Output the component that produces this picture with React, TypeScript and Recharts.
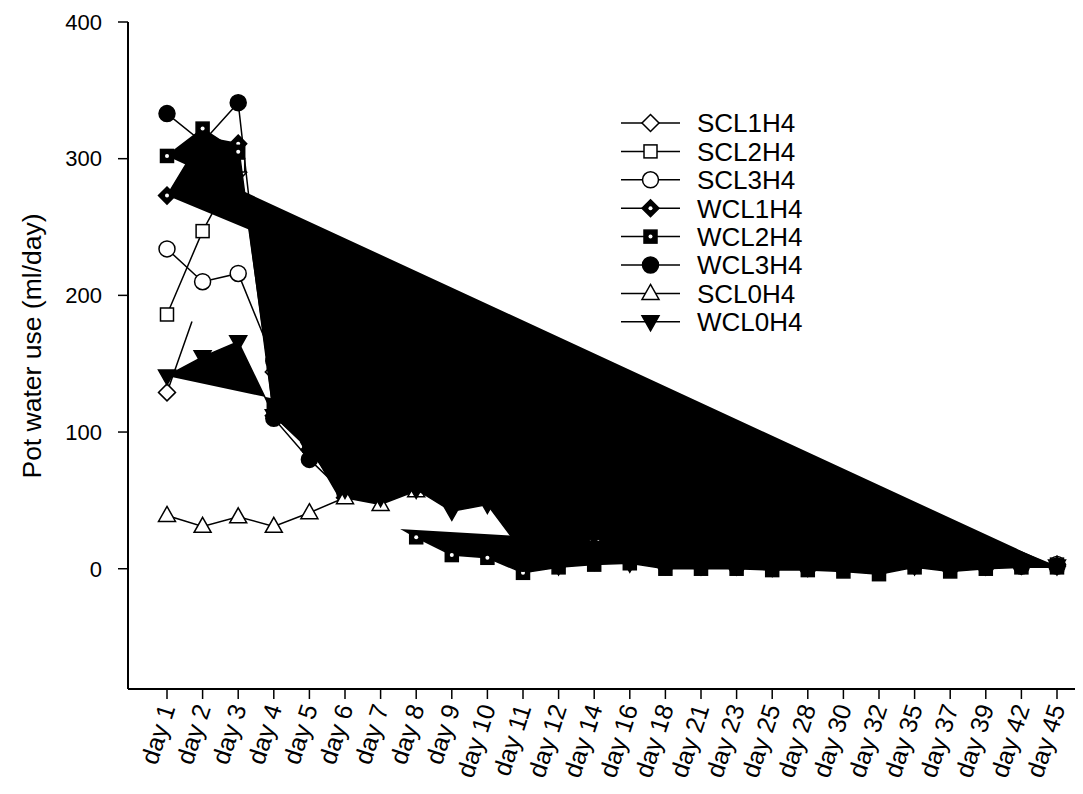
import React from "react";
import { LineChart, Line, XAxis, YAxis, Legend } from "recharts";

const days = [
  "day 1", "day 2", "day 3", "day 4", "day 5", "day 6", "day 7", "day 8", "day 9", "day 10",
  "day 11", "day 12", "day 14", "day 16", "day 18", "day 21", "day 23", "day 25", "day 28",
  "day 30", "day 32", "day 35", "day 37", "day 39", "day 42", "day 45",
];

const scl1h4 = [129, 203, 290, 144, 100, 75, 62, 50, 40, 35, 15, 12, 12, 10, 7, 6, 5, 4, 4, 3, 2, 4, 3, 4, 4, 3];
const scl2h4 = [186, 247, 295, 150, 110, 78, 65, 55, 45, 38, 16, 13, 14, 11, 8, 7, 6, 5, 5, 4, 3, 5, 4, 5, 4, 3];
const scl3h4 = [234, 210, 216, 152, 115, 80, 68, 60, 48, 40, 18, 14, 15, 12, 9, 8, 7, 6, 5, 5, 4, 6, 5, 5, 5, 3];
const wcl1h4 = [273, 316, 311, 112, 87, 52, 45, 30, 15, 12, 2, 3, 5, 6, 2, 2, 2, 1, 1, 1, 0, 3, 1, 2, 2, 2];
const wcl2h4 = [302, 322, 305, 118, 90, 45, 38, 23, 10, 8, -3, 1, 3, 4, 0, 0, 0, -1, -1, -2, -4, 1, -2, 0, 1, 1];
const wcl3h4 = [333, 312, 341, 110, 80, 55, 48, 40, 25, 18, 4, 5, 7, 7, 3, 3, 2, 2, 1, 1, 0, 3, 1, 2, 2, 2];
const scl0h4 = [39, 31, 38, 31, 41, 52, 47, 57, 52, 54, 30, 28, 30, 25, 22, 18, 16, 14, 12, 10, null, null, null, null, null, null];
const wcl0h4 = [141, 155, 166, 112, 88, 58, 52, 58, 42, 47, 12, 2, 24, 4, 3, 2, 2, 1, 1, 2, 0, 2, 3, 2, 3, 2];

const yTicks = [0, 100, 200, 300, 400];

type Marker = "diamond" | "square" | "circle" | "up" | "down";
type Series = { key: string; values: (number | null)[]; marker: Marker; solid: boolean; filled: boolean };

// plotting order = legend order; circle series were drawn without the polygon fill
const series: Series[] = [
  { key: "SCL1H4", values: scl1h4, marker: "diamond", solid: false, filled: true },
  { key: "SCL2H4", values: scl2h4, marker: "square", solid: false, filled: true },
  { key: "SCL3H4", values: scl3h4, marker: "circle", solid: false, filled: false },
  { key: "WCL1H4", values: wcl1h4, marker: "diamond", solid: true, filled: true },
  { key: "WCL2H4", values: wcl2h4, marker: "square", solid: true, filled: true },
  { key: "WCL3H4", values: wcl3h4, marker: "circle", solid: true, filled: false },
  { key: "SCL0H4", values: scl0h4, marker: "up", solid: false, filled: true },
  { key: "WCL0H4", values: wcl0h4, marker: "down", solid: true, filled: true },
];

const data = days.map((day, i) => {
  const row: Record<string, string | number | null> = { day };
  series.forEach((s) => (row[s.key] = s.values[i]));
  return row;
});

const FONT = "'Liberation Sans', Arial, sans-serif";

function drawMarker(s: Series, cx: number, cy: number) {
  const fill = s.solid ? "#000" : "#fff";
  const common = { fill, stroke: "#000", strokeWidth: 1.5 };
  let shape: React.ReactNode;
  if (s.marker === "diamond") {
    const r = 8.5;
    shape = <path d={`M${cx},${cy - r}L${cx + r},${cy}L${cx},${cy + r}L${cx - r},${cy}Z`} {...common} />;
  } else if (s.marker === "square") {
    const r = 6.5;
    shape = <rect x={cx - r} y={cy - r} width={2 * r} height={2 * r} {...common} />;
  } else if (s.marker === "circle") {
    shape = <circle cx={cx} cy={cy} r={8} {...common} />;
  } else if (s.marker === "up") {
    shape = <path d={`M${cx},${cy - 9}L${cx + 8.5},${cy + 6}L${cx - 8.5},${cy + 6}Z`} {...common} />;
  } else {
    shape = <path d={`M${cx},${cy + 9}L${cx + 8.5},${cy - 6}L${cx - 8.5},${cy - 6}Z`} {...common} />;
  }
  const dot = s.solid && (s.marker === "diamond" || s.marker === "square");
  return (
    <g>
      {shape}
      {dot && <circle cx={cx} cy={cy} r={2} fill="#fff" />}
    </g>
  );
}

const traced: Record<string, { x: number; y: number }[]> = {};

function shapeDot(s: Series) {
  let last = 0;
  s.values.forEach((v, i) => {
    if (v != null) last = i;
  });
  return (p: any) => {
    const { cx, cy, index } = p;
    if (index === 0) traced[s.key] = [];
    if (cx != null && cy != null && !Number.isNaN(cy)) traced[s.key].push({ x: cx, y: cy });
    if (index !== last) return <g key={`${s.key}-s-${index}`} />;
    const pts = traced[s.key];
    const d = pts.map((pt, i) => `${i ? "L" : "M"}${pt.x},${pt.y}`).join("");
    return (
      <g key={`${s.key}-s-${index}`}>
        {s.filled && <path d={d + "Z"} fill={s.solid ? "#000" : "#fff"} stroke="none" />}
        <path d={d} fill="none" stroke="#000" strokeWidth={1.5} />
      </g>
    );
  };
}

function markDot(s: Series) {
  return (p: any) => {
    const { cx, cy, index } = p;
    if (cx == null || cy == null || Number.isNaN(cy)) return <g key={`${s.key}-m-${index}`} />;
    return <g key={`${s.key}-m-${index}`}>{drawMarker(s, cx, cy)}</g>;
  };
}

function DayTick(props: any) {
  const { x, y, payload } = props;
  return (
    <g transform={`translate(${x},${y + 4})`}>
      <text x={0} y={0} dy={9} transform="rotate(-72)" textAnchor="end" fontSize={25} fontFamily={FONT} fill="#000">
        {payload.value}
      </text>
    </g>
  );
}

function LegendBox(props: any) {
  const names = (props.payload || []).map((e: any) => e.value);
  const items = series.filter((s) => names.includes(s.key));
  return (
    <svg width={250} height={260} style={{ overflow: "visible" }}>
      {items.map((s, i) => {
        const cy = 20 + i * 28.4;
        return (
          <g key={s.key}>
            <line x1={4} x2={63} y1={cy} y2={cy} stroke="#000" strokeWidth={1.5} />
            {drawMarker(s, 33.5, cy)}
            <text x={80} y={cy} dy="0.36em" fontSize={26} fontFamily={FONT} fill="#000">
              {s.key}
            </text>
          </g>
        );
      })}
    </svg>
  );
}

export default function App() {
  return (
    <LineChart width={1075} height={786} data={data} margin={{ top: 14, right: 5, left: 0, bottom: 0 }}>
      <XAxis
        dataKey="day"
        interval={0}
        height={105}
        padding={{ left: 39, right: 21 }}
        tick={<DayTick />}
        tickSize={10}
        axisLine={{ stroke: "#000", strokeWidth: 2 }}
        tickLine={{ stroke: "#000", strokeWidth: 1.5 }}
      />
      <YAxis
        width={120}
        domain={[-88, 400]}
        ticks={yTicks}
        tickSize={10}
        tickMargin={16}
        axisLine={{ stroke: "#000", strokeWidth: 2 }}
        tickLine={{ stroke: "#000", strokeWidth: 1.5 }}
        tick={{ fill: "#000", fontSize: 22, fontFamily: FONT }}
        label={{
          content: () => (
            <text x={23} y={338} transform="rotate(-90, 23, 338)" textAnchor="middle" dy="0.36em" fontSize={26.5} fontFamily={FONT} fill="#000">
              Pot water use (ml/day)
            </text>
          ),
        }}
      />
      <Legend
        layout="vertical"
        verticalAlign="middle"
        align="center"
        wrapperStyle={{ position: "absolute", left: 609, top: 95, width: 250, height: 260 }}
        content={<LegendBox />}
      />
      {series.flatMap((s) => [
        <Line
          key={`${s.key}-shape`}
          dataKey={s.key}
          legendType="none"
          stroke="none"
          dot={shapeDot(s)}
          activeDot={false}
          isAnimationActive={false}
        />,
        <Line
          key={`${s.key}-marks`}
          name={s.key}
          dataKey={s.key}
          stroke="none"
          dot={markDot(s)}
          activeDot={false}
          isAnimationActive={false}
        />,
      ])}
    </LineChart>
  );
}
